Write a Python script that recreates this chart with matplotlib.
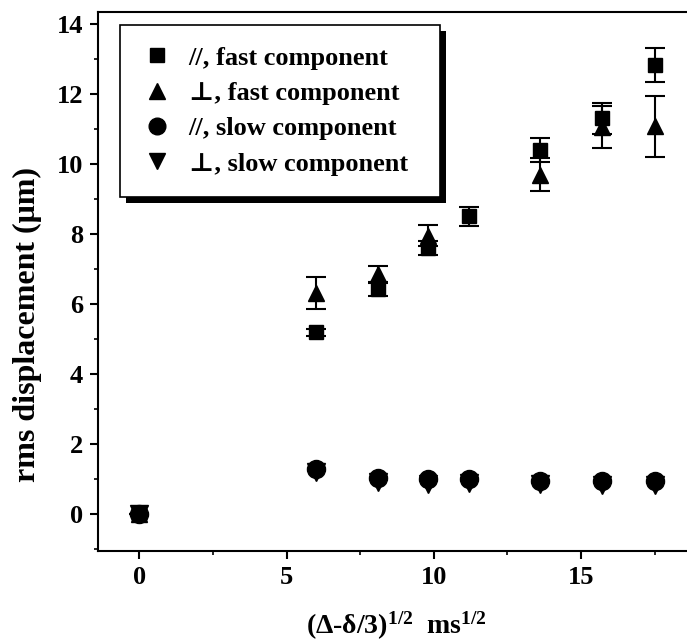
import numpy as np
import matplotlib
matplotlib.use("Agg")
import matplotlib.pyplot as plt
from matplotlib.ticker import MultipleLocator
from matplotlib.lines import Line2D
from matplotlib.patches import Rectangle

plt.rcParams['font.family'] = ['Liberation Serif', 'DejaVu Serif']
plt.rcParams['font.weight'] = 'bold'
plt.rcParams['mathtext.fontset'] = 'custom'
plt.rcParams['mathtext.rm'] = 'Liberation Serif:bold'
plt.rcParams['mathtext.bf'] = 'Liberation Serif:bold'
plt.rcParams['mathtext.it'] = 'Liberation Serif:bold'

# data
x_vals = [0, 6.0, 8.1, 9.8, 11.2, 13.6, 15.7, 17.5]
par_fast = [0, 5.19, 6.43, 7.6, 8.5, 10.4, 11.3, 12.83]
par_fast_err = [0, 0.1, 0.2, 0.2, 0.28, 0.34, 0.45, 0.48]
perp_fast_x = [0, 6.0, 8.1, 9.8, 13.6, 15.7, 17.5]
perp_fast = [0, 6.31, 6.85, 7.95, 9.69, 11.05, 11.07]
perp_fast_err = [0, 0.45, 0.25, 0.3, 0.47, 0.6, 0.87]
par_slow = [0, 1.3, 1.03, 1.0, 1.0, 0.95, 0.95, 0.95]
perp_slow = [0, 1.2, 0.92, 0.86, 0.88, 0.85, 0.84, 0.84]

labels = ['//, fast component', '\u22a5, fast component',
          '//, slow component', '\u22a5, slow component']
markers = ['s', '^', 'o', 'v']
msizes = [10, 12, 12, 12]

fig = plt.figure(figsize=(6.87, 6.44), dpi=100)
ax = fig.add_axes([0.143, 0.145, 0.857, 0.837])

eb = dict(color='black', ecolor='black', elinewidth=1.5, capsize=7, capthick=1.5, linestyle='none')
ax.errorbar(x_vals, par_fast, yerr=par_fast_err, marker='s', ms=10, **eb)
ax.errorbar(perp_fast_x, perp_fast, yerr=perp_fast_err, marker='^', ms=12, **eb)
ax.plot(x_vals, par_slow, 'o', color='black', ms=13)
ax.plot(x_vals, perp_slow, 'v', color='black', ms=13)

ax.set_xlim(-1.4, 18.6)
ax.set_ylim(-1.04, 14.35)
ax.xaxis.set_major_locator(MultipleLocator(5))
ax.xaxis.set_minor_locator(MultipleLocator(2.5))
ax.yaxis.set_major_locator(MultipleLocator(2))
ax.yaxis.set_minor_locator(MultipleLocator(1))
ax.tick_params(which='major', direction='out', length=6, width=1.5, labelsize=19, pad=5)
ax.tick_params(which='minor', direction='out', length=3, width=1.2)
ax.spines['right'].set_visible(False)
for s in ['left', 'bottom', 'top']:
    ax.spines[s].set_linewidth(1.5)
for lab in ax.get_xticklabels() + ax.get_yticklabels():
    lab.set_fontweight('bold')

ax.set_ylabel('rms displacement (\u03bcm)', fontsize=23, fontweight='bold')
ax.yaxis.set_label_coords(-0.096, 0.42)
ax.set_xlabel('(\u0394-\u03b4/3)$^{1/2}$  ms$^{1/2}$', fontsize=20, fontweight='bold')
ax.xaxis.set_label_coords(0.507, -0.11)

handles = [Line2D([], [], marker=m, ms=s, color='black', linestyle='none')
           for m, s in zip(markers, msizes)]
leg = ax.legend(handles, labels, loc='upper left', bbox_to_anchor=(0.037, 0.875, 0.544, 0.1),
                mode='expand', borderaxespad=0, fontsize=19,
                frameon=True, fancybox=False, edgecolor='black', framealpha=1,
                handletextpad=0.6, borderpad=0.8, labelspacing=0.45,
                numpoints=1, handlelength=1.2)
leg.get_frame().set_linewidth(1.2)

# thick offset shadow behind the legend box
fig.canvas.draw()
bb = leg.get_window_extent().transformed(fig.transFigure.inverted())
dx, dy = 6 / 687, 6 / 644
shadow = Rectangle((bb.x0 + dx, bb.y0 - dy), bb.width, bb.height, transform=fig.transFigure,
                   facecolor='black', edgecolor='none', zorder=4)
ax.add_artist(shadow)
shadow.set_clip_on(False)
leg.set_zorder(6)

fig.savefig('out.png', dpi=100)
